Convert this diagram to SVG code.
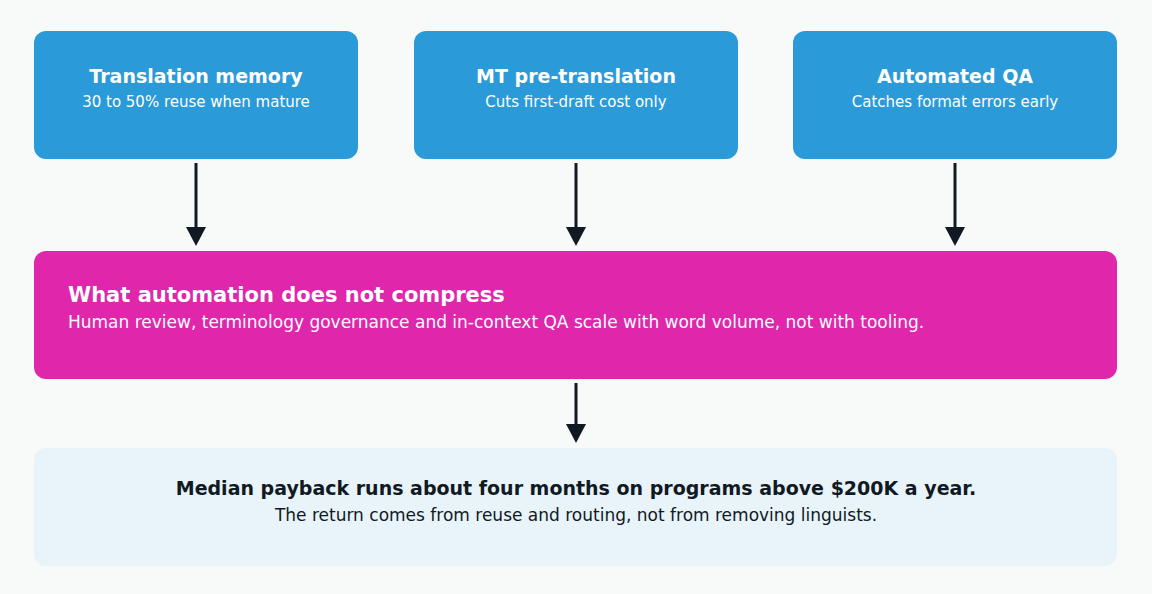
<svg xmlns="http://www.w3.org/2000/svg" width="1152" height="594" viewBox="0 0 1152 594">
<defs>
<marker id="ah" markerWidth="10" markerHeight="10" refX="5" refY="5" orient="auto" markerUnits="userSpaceOnUse" viewBox="0 0 10 10"><path d="M0,0 L10,5 L0,10 z" fill="#111a22"/></marker>
<style>
text{font-family:"DejaVu Sans",sans-serif}
.top{fill:#2b9ad8}
.t{fill:#fff;font-weight:bold;font-size:19px;text-anchor:middle}
.s{fill:#fff;font-size:15px;text-anchor:middle}
.c{stroke:#111a22;stroke-width:3;fill:none}
</style>
</defs>
<rect width="1152" height="594" fill="#f8f9f9"/>
<g id="n1"><rect class="top" x="34" y="31" width="324" height="128" rx="12"/><text class="t" x="196" y="83">Translation memory</text><text class="s" x="196" y="107">30 to 50% reuse when mature</text></g>
<g id="n2"><rect class="top" x="414" y="31" width="324" height="128" rx="12"/><text class="t" x="576" y="83">MT pre-translation</text><text class="s" x="576" y="107">Cuts first-draft cost only</text></g>
<g id="n3"><rect class="top" x="793" y="31" width="324" height="128" rx="12"/><text class="t" x="955" y="83">Automated QA</text><text class="s" x="955" y="107">Catches format errors early</text></g>
<g id="n4"><rect x="34" y="251" width="1083" height="128" rx="12" fill="#e026ab"/><text x="68" y="302" fill="#fff" font-weight="bold" font-size="21">What automation does not compress</text><text x="68" y="328" fill="#fff" font-size="17">Human review, terminology governance and in-context QA scale with word volume, not with tooling.</text></g>
<g id="n5"><rect x="34" y="448" width="1083" height="118" rx="12" fill="#e8f3fa"/><text x="576" y="495" fill="#111a22" font-weight="bold" font-size="19" text-anchor="middle">Median payback runs about four months on programs above $200K a year.</text><text x="576" y="521" fill="#111a22" font-size="17" text-anchor="middle">The return comes from reuse and routing, not from removing linguists.</text></g>
<g id="connectors">
<path class="c" d="M196,163 V236"/><path d="M186,227 L196,246 L206,227 z" fill="#111a22"/>
<path class="c" d="M576,163 V236"/><path d="M566,227 L576,246 L586,227 z" fill="#111a22"/>
<path class="c" d="M955,163 V236"/><path d="M945,227 L955,246 L965,227 z" fill="#111a22"/>
<path class="c" d="M576,383 V433"/><path d="M566,424 L576,443 L586,424 z" fill="#111a22"/>
</g>
</svg>
